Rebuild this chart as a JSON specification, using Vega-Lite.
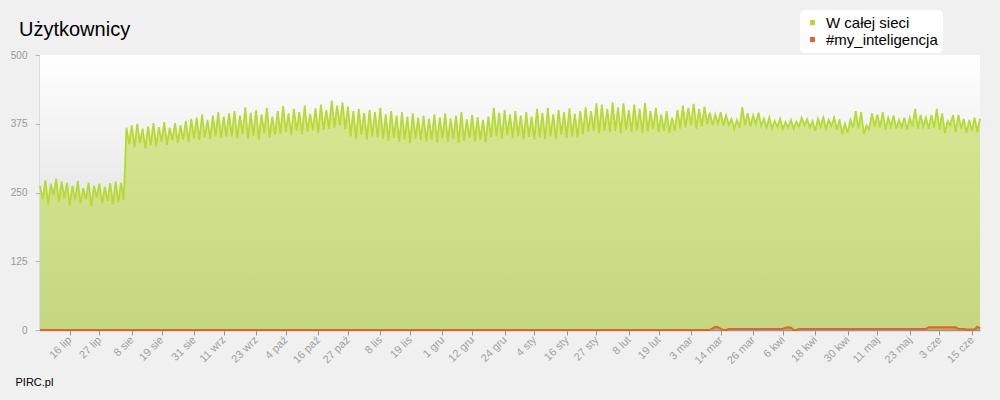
{
  "$schema": "https://vega.github.io/schema/vega-lite/v6.json",
  "width": 940,
  "height": 275,
  "autosize": {"type": "none"},
  "padding": {"left": 40, "top": 55, "right": 20, "bottom": 70},
  "background": "#f0f0f0",
  "title": {"text": "Użytkownicy", "anchor": "start", "frame": "group", "fontSize": 20, "fontWeight": "normal", "color": "#000000", "dx": -21, "offset": -46, "baseline": "alphabetic", "font": "Liberation Sans"},
  "config": {
    "font": "Liberation Sans",
    "view": {"stroke": null},
    "axis": {"grid": false}
  },
  "datasets": {
    "g": [
      {"d":"2012-07-05","v":262},{"d":"2012-07-06","v":238},{"d":"2012-07-07","v":272},{"d":"2012-07-08","v":228},{"d":"2012-07-09","v":266},{"d":"2012-07-10","v":245},{"d":"2012-07-11","v":275},{"d":"2012-07-12","v":232},{"d":"2012-07-13","v":270},{"d":"2012-07-14","v":240},{"d":"2012-07-15","v":268},{"d":"2012-07-16","v":226},{"d":"2012-07-17","v":262},{"d":"2012-07-18","v":236},{"d":"2012-07-19","v":271},{"d":"2012-07-20","v":230},{"d":"2012-07-21","v":258},{"d":"2012-07-22","v":238},{"d":"2012-07-23","v":268},{"d":"2012-07-24","v":225},{"d":"2012-07-25","v":262},{"d":"2012-07-26","v":241},{"d":"2012-07-27","v":266},{"d":"2012-07-28","v":230},{"d":"2012-07-29","v":260},{"d":"2012-07-30","v":235},{"d":"2012-07-31","v":267},
      {"d":"2012-08-01","v":228},{"d":"2012-08-02","v":270},{"d":"2012-08-03","v":232},{"d":"2012-08-04","v":268},{"d":"2012-08-05","v":236},{"d":"2012-08-06","v":368},{"d":"2012-08-07","v":338},{"d":"2012-08-08","v":372},{"d":"2012-08-09","v":332},{"d":"2012-08-10","v":375},{"d":"2012-08-11","v":340},{"d":"2012-08-12","v":366},{"d":"2012-08-13","v":330},{"d":"2012-08-14","v":370},{"d":"2012-08-15","v":336},{"d":"2012-08-16","v":376},{"d":"2012-08-17","v":334},{"d":"2012-08-18","v":369},{"d":"2012-08-19","v":342},{"d":"2012-08-20","v":378},{"d":"2012-08-21","v":336},{"d":"2012-08-22","v":368},{"d":"2012-08-23","v":345},{"d":"2012-08-24","v":376},{"d":"2012-08-25","v":340},{"d":"2012-08-26","v":372},{"d":"2012-08-27","v":346},{"d":"2012-08-28","v":380},{"d":"2012-08-29","v":342},{"d":"2012-08-30","v":384},{"d":"2012-08-31","v":348},
      {"d":"2012-09-01","v":386},{"d":"2012-09-02","v":345},{"d":"2012-09-03","v":392},{"d":"2012-09-04","v":350},{"d":"2012-09-05","v":382},{"d":"2012-09-06","v":347},{"d":"2012-09-07","v":390},{"d":"2012-09-08","v":352},{"d":"2012-09-09","v":396},{"d":"2012-09-10","v":349},{"d":"2012-09-11","v":388},{"d":"2012-09-12","v":352},{"d":"2012-09-13","v":394},{"d":"2012-09-14","v":352},{"d":"2012-09-15","v":398},{"d":"2012-09-16","v":348},{"d":"2012-09-17","v":390},{"d":"2012-09-18","v":356},{"d":"2012-09-19","v":405},{"d":"2012-09-20","v":347},{"d":"2012-09-21","v":395},{"d":"2012-09-22","v":353},{"d":"2012-09-23","v":400},{"d":"2012-09-24","v":346},{"d":"2012-09-25","v":392},{"d":"2012-09-26","v":358},{"d":"2012-09-27","v":404},{"d":"2012-09-28","v":350},{"d":"2012-09-29","v":388},{"d":"2012-09-30","v":355},
      {"d":"2012-10-01","v":398},{"d":"2012-10-02","v":357},{"d":"2012-10-03","v":407},{"d":"2012-10-04","v":360},{"d":"2012-10-05","v":394},{"d":"2012-10-06","v":354},{"d":"2012-10-07","v":402},{"d":"2012-10-08","v":362},{"d":"2012-10-09","v":396},{"d":"2012-10-10","v":356},{"d":"2012-10-11","v":408},{"d":"2012-10-12","v":360},{"d":"2012-10-13","v":393},{"d":"2012-10-14","v":363},{"d":"2012-10-15","v":403},{"d":"2012-10-16","v":358},{"d":"2012-10-17","v":410},{"d":"2012-10-18","v":364},{"d":"2012-10-19","v":400},{"d":"2012-10-20","v":366},{"d":"2012-10-21","v":417},{"d":"2012-10-22","v":368},{"d":"2012-10-23","v":408},{"d":"2012-10-24","v":372},{"d":"2012-10-25","v":414},{"d":"2012-10-26","v":365},{"d":"2012-10-27","v":406},{"d":"2012-10-28","v":352},{"d":"2012-10-29","v":398},{"d":"2012-10-30","v":348},{"d":"2012-10-31","v":402},
      {"d":"2012-11-01","v":355},{"d":"2012-11-02","v":395},{"d":"2012-11-03","v":346},{"d":"2012-11-04","v":400},{"d":"2012-11-05","v":352},{"d":"2012-11-06","v":396},{"d":"2012-11-07","v":350},{"d":"2012-11-08","v":404},{"d":"2012-11-09","v":347},{"d":"2012-11-10","v":392},{"d":"2012-11-11","v":344},{"d":"2012-11-12","v":398},{"d":"2012-11-13","v":349},{"d":"2012-11-14","v":390},{"d":"2012-11-15","v":342},{"d":"2012-11-16","v":396},{"d":"2012-11-17","v":346},{"d":"2012-11-18","v":388},{"d":"2012-11-19","v":340},{"d":"2012-11-20","v":394},{"d":"2012-11-21","v":348},{"d":"2012-11-22","v":386},{"d":"2012-11-23","v":345},{"d":"2012-11-24","v":390},{"d":"2012-11-25","v":343},{"d":"2012-11-26","v":384},{"d":"2012-11-27","v":346},{"d":"2012-11-28","v":392},{"d":"2012-11-29","v":341},{"d":"2012-11-30","v":386},
      {"d":"2012-12-01","v":348},{"d":"2012-12-02","v":394},{"d":"2012-12-03","v":342},{"d":"2012-12-04","v":385},{"d":"2012-12-05","v":347},{"d":"2012-12-06","v":390},{"d":"2012-12-07","v":340},{"d":"2012-12-08","v":396},{"d":"2012-12-09","v":344},{"d":"2012-12-10","v":383},{"d":"2012-12-11","v":349},{"d":"2012-12-12","v":391},{"d":"2012-12-13","v":343},{"d":"2012-12-14","v":387},{"d":"2012-12-15","v":346},{"d":"2012-12-16","v":382},{"d":"2012-12-17","v":341},{"d":"2012-12-18","v":388},{"d":"2012-12-19","v":350},{"d":"2012-12-20","v":404},{"d":"2012-12-21","v":352},{"d":"2012-12-22","v":395},{"d":"2012-12-23","v":348},{"d":"2012-12-24","v":400},{"d":"2012-12-25","v":354},{"d":"2012-12-26","v":392},{"d":"2012-12-27","v":349},{"d":"2012-12-28","v":398},{"d":"2012-12-29","v":352},{"d":"2012-12-30","v":390},{"d":"2012-12-31","v":347},
      {"d":"2013-01-01","v":396},{"d":"2013-01-02","v":351},{"d":"2013-01-03","v":388},{"d":"2013-01-04","v":346},{"d":"2013-01-05","v":402},{"d":"2013-01-06","v":350},{"d":"2013-01-07","v":395},{"d":"2013-01-08","v":347},{"d":"2013-01-09","v":404},{"d":"2013-01-10","v":352},{"d":"2013-01-11","v":392},{"d":"2013-01-12","v":348},{"d":"2013-01-13","v":400},{"d":"2013-01-14","v":355},{"d":"2013-01-15","v":396},{"d":"2013-01-16","v":349},{"d":"2013-01-17","v":403},{"d":"2013-01-18","v":352},{"d":"2013-01-19","v":393},{"d":"2013-01-20","v":350},{"d":"2013-01-21","v":398},{"d":"2013-01-22","v":356},{"d":"2013-01-23","v":405},{"d":"2013-01-24","v":360},{"d":"2013-01-25","v":398},{"d":"2013-01-26","v":362},{"d":"2013-01-27","v":412},{"d":"2013-01-28","v":358},{"d":"2013-01-29","v":410},{"d":"2013-01-30","v":362},{"d":"2013-01-31","v":402},
      {"d":"2013-02-01","v":360},{"d":"2013-02-02","v":414},{"d":"2013-02-03","v":362},{"d":"2013-02-04","v":405},{"d":"2013-02-05","v":358},{"d":"2013-02-06","v":412},{"d":"2013-02-07","v":364},{"d":"2013-02-08","v":400},{"d":"2013-02-09","v":360},{"d":"2013-02-10","v":410},{"d":"2013-02-11","v":363},{"d":"2013-02-12","v":402},{"d":"2013-02-13","v":358},{"d":"2013-02-14","v":413},{"d":"2013-02-15","v":361},{"d":"2013-02-16","v":398},{"d":"2013-02-17","v":365},{"d":"2013-02-18","v":404},{"d":"2013-02-19","v":360},{"d":"2013-02-20","v":392},{"d":"2013-02-21","v":362},{"d":"2013-02-22","v":398},{"d":"2013-02-23","v":358},{"d":"2013-02-24","v":386},{"d":"2013-02-25","v":362},{"d":"2013-02-26","v":400},{"d":"2013-02-27","v":366},{"d":"2013-02-28","v":408},
      {"d":"2013-03-01","v":368},{"d":"2013-03-02","v":404},{"d":"2013-03-03","v":372},{"d":"2013-03-04","v":411},{"d":"2013-03-05","v":366},{"d":"2013-03-06","v":402},{"d":"2013-03-07","v":370},{"d":"2013-03-08","v":406},{"d":"2013-03-09","v":374},{"d":"2013-03-10","v":395},{"d":"2013-03-11","v":372},{"d":"2013-03-12","v":392},{"d":"2013-03-13","v":375},{"d":"2013-03-14","v":396},{"d":"2013-03-15","v":371},{"d":"2013-03-16","v":390},{"d":"2013-03-17","v":373},{"d":"2013-03-18","v":384},{"d":"2013-03-19","v":366},{"d":"2013-03-20","v":382},{"d":"2013-03-21","v":368},{"d":"2013-03-22","v":405},{"d":"2013-03-23","v":372},{"d":"2013-03-24","v":394},{"d":"2013-03-25","v":370},{"d":"2013-03-26","v":390},{"d":"2013-03-27","v":374},{"d":"2013-03-28","v":395},{"d":"2013-03-29","v":371},{"d":"2013-03-30","v":384},{"d":"2013-03-31","v":368},
      {"d":"2013-04-01","v":386},{"d":"2013-04-02","v":366},{"d":"2013-04-03","v":380},{"d":"2013-04-04","v":369},{"d":"2013-04-05","v":384},{"d":"2013-04-06","v":365},{"d":"2013-04-07","v":378},{"d":"2013-04-08","v":368},{"d":"2013-04-09","v":382},{"d":"2013-04-10","v":366},{"d":"2013-04-11","v":379},{"d":"2013-04-12","v":370},{"d":"2013-04-13","v":386},{"d":"2013-04-14","v":372},{"d":"2013-04-15","v":383},{"d":"2013-04-16","v":368},{"d":"2013-04-17","v":380},{"d":"2013-04-18","v":362},{"d":"2013-04-19","v":384},{"d":"2013-04-20","v":370},{"d":"2013-04-21","v":386},{"d":"2013-04-22","v":366},{"d":"2013-04-23","v":382},{"d":"2013-04-24","v":371},{"d":"2013-04-25","v":386},{"d":"2013-04-26","v":364},{"d":"2013-04-27","v":383},{"d":"2013-04-28","v":356},{"d":"2013-04-29","v":375},{"d":"2013-04-30","v":358},
      {"d":"2013-05-01","v":382},{"d":"2013-05-02","v":368},{"d":"2013-05-03","v":398},{"d":"2013-05-04","v":366},{"d":"2013-05-05","v":396},{"d":"2013-05-06","v":356},{"d":"2013-05-07","v":372},{"d":"2013-05-08","v":365},{"d":"2013-05-09","v":394},{"d":"2013-05-10","v":370},{"d":"2013-05-11","v":392},{"d":"2013-05-12","v":368},{"d":"2013-05-13","v":396},{"d":"2013-05-14","v":364},{"d":"2013-05-15","v":386},{"d":"2013-05-16","v":370},{"d":"2013-05-17","v":390},{"d":"2013-05-18","v":366},{"d":"2013-05-19","v":382},{"d":"2013-05-20","v":368},{"d":"2013-05-21","v":386},{"d":"2013-05-22","v":364},{"d":"2013-05-23","v":386},{"d":"2013-05-24","v":370},{"d":"2013-05-25","v":402},{"d":"2013-05-26","v":366},{"d":"2013-05-27","v":391},{"d":"2013-05-28","v":370},{"d":"2013-05-29","v":386},{"d":"2013-05-30","v":366},{"d":"2013-05-31","v":391},
      {"d":"2013-06-01","v":368},{"d":"2013-06-02","v":402},{"d":"2013-06-03","v":364},{"d":"2013-06-04","v":394},{"d":"2013-06-05","v":358},{"d":"2013-06-06","v":380},{"d":"2013-06-07","v":372},{"d":"2013-06-08","v":391},{"d":"2013-06-09","v":360},{"d":"2013-06-10","v":391},{"d":"2013-06-11","v":366},{"d":"2013-06-12","v":384},{"d":"2013-06-13","v":358},{"d":"2013-06-14","v":382},{"d":"2013-06-15","v":362},{"d":"2013-06-16","v":386},{"d":"2013-06-17","v":360},{"d":"2013-06-18","v":384}
    ],
    "o": [
      {"d":"2012-07-05","v":0},{"d":"2013-03-10","v":0},{"d":"2013-03-11","v":3},{"d":"2013-03-12","v":6},{"d":"2013-03-13","v":5},{"d":"2013-03-14","v":2},{"d":"2013-03-15","v":0},{"d":"2013-03-16","v":0},{"d":"2013-03-17","v":2},{"d":"2013-04-06","v":2},{"d":"2013-04-07","v":4},{"d":"2013-04-08","v":5},{"d":"2013-04-09","v":4},{"d":"2013-04-10","v":0},{"d":"2013-04-11","v":0},{"d":"2013-04-12","v":2},{"d":"2013-05-29","v":2},{"d":"2013-05-30","v":5},{"d":"2013-06-09","v":5},{"d":"2013-06-10","v":2},{"d":"2013-06-12","v":2},{"d":"2013-06-13","v":1},{"d":"2013-06-16","v":1},{"d":"2013-06-17","v":6},{"d":"2013-06-18","v":3}
    ]
  },
  "encoding": {
    "x": {
      "field": "d", "type": "temporal",
      "scale": {"type": "utc", "nice": false},
      "axis": {
        "values": [
          {"year":2012,"month":7,"date":16,"utc":true},{"year":2012,"month":7,"date":27,"utc":true},{"year":2012,"month":8,"date":8,"utc":true},{"year":2012,"month":8,"date":19,"utc":true},{"year":2012,"month":8,"date":31,"utc":true},{"year":2012,"month":9,"date":11,"utc":true},{"year":2012,"month":9,"date":23,"utc":true},{"year":2012,"month":10,"date":4,"utc":true},{"year":2012,"month":10,"date":16,"utc":true},{"year":2012,"month":10,"date":27,"utc":true},{"year":2012,"month":11,"date":8,"utc":true},{"year":2012,"month":11,"date":19,"utc":true},{"year":2012,"month":12,"date":1,"utc":true},{"year":2012,"month":12,"date":12,"utc":true},{"year":2012,"month":12,"date":24,"utc":true},
          {"year":2013,"month":1,"date":4,"utc":true},{"year":2013,"month":1,"date":16,"utc":true},{"year":2013,"month":1,"date":27,"utc":true},{"year":2013,"month":2,"date":8,"utc":true},{"year":2013,"month":2,"date":19,"utc":true},{"year":2013,"month":3,"date":3,"utc":true},{"year":2013,"month":3,"date":14,"utc":true},{"year":2013,"month":3,"date":26,"utc":true},{"year":2013,"month":4,"date":6,"utc":true},{"year":2013,"month":4,"date":18,"utc":true},{"year":2013,"month":4,"date":30,"utc":true},{"year":2013,"month":5,"date":11,"utc":true},{"year":2013,"month":5,"date":23,"utc":true},{"year":2013,"month":6,"date":3,"utc":true},{"year":2013,"month":6,"date":15,"utc":true}
        ],
        "labelExpr": "utcdate(datum.value) + ' ' + ['sty','lut','mar','kwi','maj','cze','lip','sie','wrz','paź','lis','gru'][utcmonth(datum.value)]",
        "labelAngle": -45,
        "labelAlign": "right",
        "labelBaseline": "middle",
        "labelFontSize": 11,
        "labelColor": "#a0a0a0",
        "labelPadding": 3,
        "labelOverlap": false,
        "labelFlush": false,
        "tickColor": "#999999",
        "tickSize": 5,
        "domainColor": "#999999",
        "domainWidth": 1.5,
        "title": "PIRC.pl",
        "titleAnchor": "start",
        "titleAlign": "left",
        "titleBaseline": "alphabetic",
        "titleX": -25,
        "titleY": 55,
        "titleFontSize": 11,
        "titleFontWeight": "normal",
        "titleColor": "#000000"
      }
    },
    "y": {
      "type": "quantitative",
      "scale": {"domain": [0, 500], "nice": false},
      "axis": {
        "values": [0, 125, 250, 375, 500],
        "title": null,
        "labelFontSize": 10,
        "labelColor": "#999999",
        "labelPadding": 8,
        "tickColor": "#bbbbbb",
        "tickSize": 5,
        "domainColor": "#999999",
        "domainWidth": 1.5
      }
    }
  },
  "layer": [
    {
      "data": {"name": "g"},
      "mark": {"type": "area", "color": {"gradient": "linear", "x1": 0, "y1": 0, "x2": 0, "y2": 1, "stops": [{"offset": 0, "color": "#ffffff"}, {"offset": 1, "color": "#d4d4d4"}]}},
      "encoding": {"y": {"datum": 500, "type": "quantitative"}}
    },
    {
      "data": {"name": "g"},
      "mark": {"type": "area", "fillOpacity": 0.52},
      "encoding": {
        "y": {"field": "v", "type": "quantitative"},
        "color": {
          "datum": "W całej sieci",
          "scale": {"domain": ["W całej sieci", "#my_inteligencja"], "range": ["#b8d935", "#e0652c"]},
          "legend": {
            "title": null,
            "orient": "none",
            "legendX": 760,
            "legendY": -45,
            "direction": "vertical",
            "fillColor": "#ffffff",
            "cornerRadius": 5,
            "padding": 5,
            "symbolOffset": 0,
            "symbolType": "square",
            "symbolSize": 25,
            "symbolOpacity": 1,
            "symbolStrokeWidth": 0,
            "labelFontSize": 15,
            "labelColor": "#000000",
            "labelOffset": 6,
            "rowPadding": 1,
            "labelLimit": 300
          }
        }
      }
    },
    {
      "data": {"name": "g"},
      "mark": {"type": "line", "strokeWidth": 1.8},
      "encoding": {
        "y": {"field": "v", "type": "quantitative"},
        "color": {"datum": "W całej sieci"}
      }
    },
    {
      "data": {"name": "o"},
      "mark": {"type": "area", "fillOpacity": 0.52},
      "encoding": {
        "y": {"field": "v", "type": "quantitative"},
        "color": {"datum": "#my_inteligencja"}
      }
    },
    {
      "data": {"name": "o"},
      "mark": {"type": "line", "strokeWidth": 2},
      "encoding": {
        "y": {"field": "v", "type": "quantitative"},
        "color": {"datum": "#my_inteligencja"}
      }
    }
  ]
}
